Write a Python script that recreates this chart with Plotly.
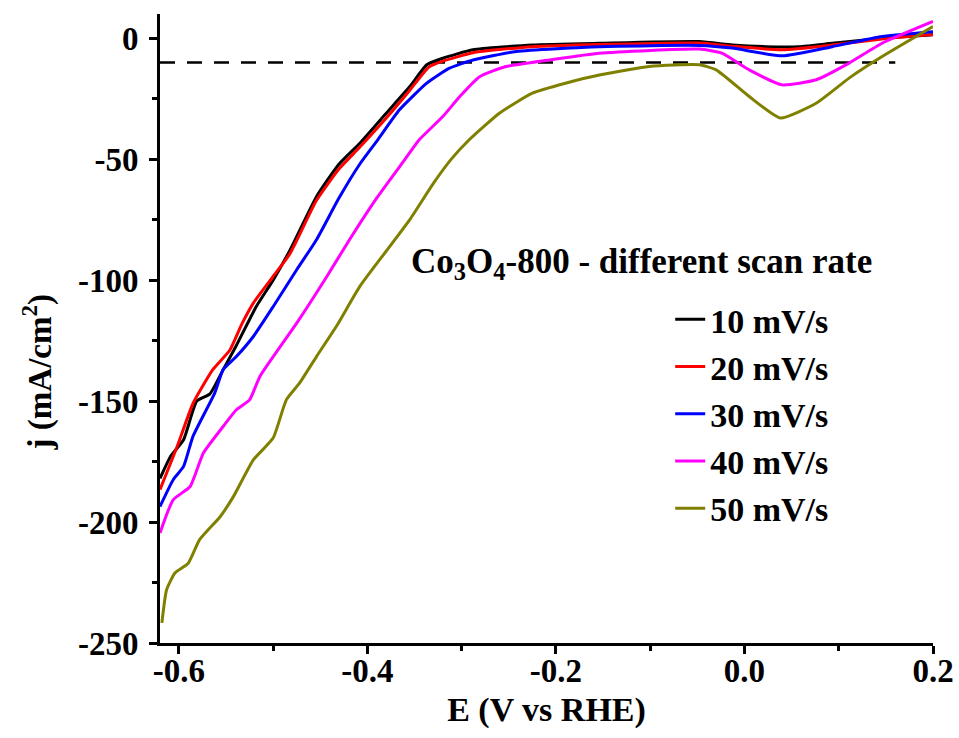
import plotly.graph_objects as go

# ---- data ----
labels = ["10 mV/s", "20 mV/s", "30 mV/s", "40 mV/s", "50 mV/s"]
colors = ["#000000", "#ff0000", "#0000ff", "#ff00ff", "#808000"]

x_10 = [-0.62, -0.609, -0.595, -0.581, -0.567, -0.553, -0.539, -0.518, -0.500, -0.482, -0.454, -0.430,
        -0.408, -0.380, -0.355, -0.337, -0.320, -0.288, -0.225, -0.154, -0.048, -0.013, 0.023, 0.058,
        0.093, 0.146, 0.200]
y_10 = [-182, -173, -166, -150, -147, -137, -127, -111, -100, -87.5, -65.5, -52,
        -43.4, -31, -20, -11, -8.3, -4.8, -2.8, -2.1, -1.4, -2.8, -3.5, -3.5,
        -2.1, 0, 1.4]

x_20 = [-0.62, -0.602, -0.585, -0.564, -0.546, -0.533, -0.521, -0.500, -0.482, -0.454, -0.430, -0.408,
        -0.380, -0.355, -0.335, -0.320, -0.288, -0.225, -0.154, -0.048, -0.013, 0.040, 0.093, 0.146, 0.200]
y_20 = [-186.6, -169, -151, -137, -129, -118, -109.5, -98.5, -89, -67, -54, -45,
        -33, -21.5, -12, -9.5, -6, -3.5, -2.6, -2.0, -3.3, -4.8, -2.8, -0.3, 1.5]

x_30 = [-0.62, -0.606, -0.595, -0.585, -0.562, -0.553, -0.539, -0.521, -0.500, -0.475, -0.454, -0.430,
        -0.408, -0.389, -0.366, -0.337, -0.313, -0.288, -0.242, -0.154, -0.048, -0.013, 0.040, 0.093,
        0.146, 0.200]
y_30 = [-193.6, -182.5, -177, -164.6, -146.7, -137, -131.6, -123.3, -111, -95.7, -83.3, -66,
        -52, -42, -29.6, -18.6, -12.4, -9, -5.5, -3.5, -3, -4.1, -7.3, -3.5,
        0.7, 2.7]

x_40 = [-0.62, -0.606, -0.588, -0.574, -0.553, -0.539, -0.525, -0.514, -0.475, -0.443, -0.419, -0.390,
        -0.360, -0.345, -0.320, -0.302, -0.281, -0.253, -0.207, -0.154, -0.048, -0.024, 0.005, 0.040,
        0.076, 0.111, 0.146, 0.200]
y_40 = [-204.5, -190.8, -185.3, -171.5, -160.5, -153.6, -149.5, -139.8, -117.8, -98.5, -83.3, -66,
        -50, -42, -32.4, -24.1, -15.9, -11.7, -9, -6.2, -4.5, -6.2, -13.1, -19.3,
        -17.2, -10.3, -2.1, 6.9]

x_50 = [-0.618, -0.613, -0.604, -0.590, -0.578, -0.556, -0.542, -0.521, -0.500, -0.486, -0.472, -0.454,
        -0.433, -0.408, -0.380, -0.355, -0.330, -0.311, -0.292, -0.260, -0.225, -0.190, -0.154, -0.101,
        -0.048, -0.030, 0.005, 0.038, 0.076, 0.111, 0.146, 0.200]
y_50 = [-241.7, -228, -221, -217, -207.3, -197.7, -189.4, -174.3, -165.3, -149.5, -142.6, -131.6,
        -119.2, -102.6, -88, -75, -60, -50, -42, -31, -22.7, -18.6, -15.2, -11.7,
        -11, -13.1, -24.1, -33, -26.9, -16.5, -7.6, 4.8]

ref_level = -10          # mA/cm2 reference current density
ref_x = [-0.62, 0.16]    # extent of the dashed reference line

x_tickvals = [-0.6, -0.4, -0.2, 0.0, 0.2]
x_ticktext = ["-0.6", "-0.4", "-0.2", "0.0", "0.2"]
y_tickvals = [0, -50, -100, -150, -200, -250]
y_ticktext = ["0", "-50", "-100", "-150", "-200", "-250"]

series_x = [x_10, x_20, x_30, x_40, x_50]
series_y = [y_10, y_20, y_30, y_40, y_50]

FONT = "Liberation Serif"

fig = go.Figure()

fig.add_trace(go.Scatter(x=ref_x, y=[ref_level, ref_level], mode="lines",
                         line=dict(color="black", width=2.5, dash="15px,12px"),
                         showlegend=False, hoverinfo="skip"))

for lab, col, xs, ys in zip(labels, colors, series_x, series_y):
    fig.add_trace(go.Scatter(x=xs, y=ys, mode="lines", name=lab,
                             legendgroup=lab,
                             line=dict(color=col, width=3, shape="spline", smoothing=0.5)))

axis_common = dict(showline=True, linewidth=3, linecolor="black", mirror=False,
                   showgrid=False, zeroline=False, ticks="outside", ticklen=8, tickwidth=3,
                   tickcolor="black", automargin=False,
                   tickfont=dict(family=FONT, size=33, color="black", weight="bold"))

fig.update_xaxes(range=[-0.62, 0.2], tickmode="array", tickvals=x_tickvals,
                 ticktext=x_ticktext, ticklabelstandoff=-12,
                 minor=dict(dtick=0.1, tick0=0, ticks="outside", ticklen=5, tickwidth=2.5,
                            tickcolor="black"),
                 title=dict(text="E (V vs RHE)", standoff=10,
                            font=dict(family=FONT, size=34, color="black", weight="bold")),
                 **axis_common)
fig.update_yaxes(range=[-250, 10], tickmode="array", tickvals=y_tickvals,
                 ticktext=y_ticktext, ticklabelstandoff=4,
                 minor=dict(dtick=25, tick0=0, ticks="outside", ticklen=5, tickwidth=2.5,
                            tickcolor="black"),
                 **axis_common)

fig.add_annotation(text="j (mA/cm<sup>2</sup>)", textangle=-90, xref="paper", yref="paper",
                   x=-0.158, y=0.43, showarrow=False, xanchor="center", yanchor="middle",
                   font=dict(family=FONT, size=33, color="black", weight="bold"))

fig.add_annotation(text="Co<sub>3</sub>O<sub>4</sub>-800 - different scan rate",
                   xref="paper", yref="paper", x=0.322, y=0.604, showarrow=False,
                   xanchor="left", yanchor="middle",
                   font=dict(family=FONT, size=35, color="black", weight="bold"))

fig.update_layout(
    width=959, height=738,
    margin=dict(l=160, r=26, t=14, b=95),
    plot_bgcolor="white", paper_bgcolor="white",
    legend=dict(x=0.66, y=0.56, xanchor="left", yanchor="top",
                bgcolor="rgba(0,0,0,0)", traceorder="grouped", tracegroupgap=0,
                font=dict(family=FONT, size=34, color="black", weight="bold")),
)

fig.write_html("out.html")
